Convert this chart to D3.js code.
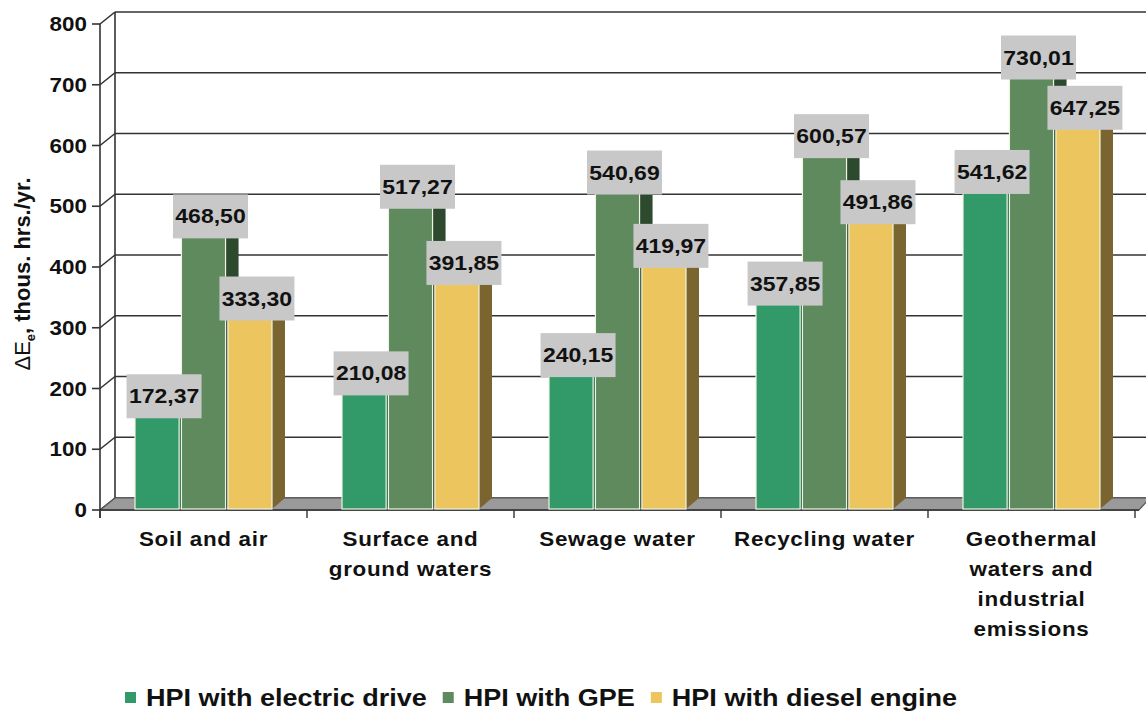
<!DOCTYPE html>
<html>
<head>
<meta charset="utf-8">
<script src="https://cdn.jsdelivr.net/npm/d3@7"></script>
<style>
  html, body { margin: 0; padding: 0; background: #fff; }
  svg { display: block; font-family: "Liberation Sans", Arial, sans-serif; }
</style>
</head>
<body>
<svg id="chart" width="1146" height="713"></svg>
<script>
// ---------------- data ----------------
const categories = ["Soil and air", "Surface and ground waters", "Sewage water", "Recycling water", "Geothermal waters and industrial emissions"];
const categoryLines = [["Soil and air"], ["Surface and", "ground waters"], ["Sewage water"], ["Recycling water"], ["Geothermal", "waters and", "industrial", "emissions"]];
const seriesNames = ["HPI with electric drive", "HPI with GPE", "HPI with diesel engine"];
const electricDrive = [172.37, 210.08, 240.15, 357.85, 541.62];
const gpeDrive = [468.50, 517.27, 540.69, 600.57, 730.01];
const dieselEngine = [333.30, 391.85, 419.97, 491.86, 647.25];
const yTicks = [0, 100, 200, 300, 400, 500, 600, 700, 800];
const yTitleMain = "ΔE";
const yTitleSub = "e";
const yTitleRest = ", thous. hrs./yr.";

// ---------------- styles ----------------
const frontColors = ["#329a69", "#5f8a5e", "#ecc55f"];
const sideColors = ["#1f6a45", "#2d4a2e", "#7a6430"];
const topColors = ["#5cbb8c", "#86ad85", "#f5dc95"];
const SX = 1.15; // horizontal text stretch

const svg = d3.select("#chart");
const values = [electricDrive, gpeDrive, dieselEngine];

// geometry
const frontLeft = 100, frontRight = 1135;
const wallDX = 15, wallDY = -12;
const barDX = 13, barDY = -11;
const y = d3.scaleLinear().domain([0, 800]).range([510, 24]);
const x0 = d3.scaleBand().domain(categories).range([frontLeft, frontRight]);
const x1 = d3.scaleBand().domain(seriesNames).range([35, 172]).paddingInner(0.05);

function stext(g, x, yy, str, size, anchor, sx) {
  const t = g.append("g").attr("transform", `translate(${x},${yy}) scale(${sx || SX},1)`)
    .append("text").attr("x", 0).attr("y", 0)
    .attr("font-size", size).attr("font-weight", "bold").attr("fill", "#111")
    .attr("text-anchor", anchor || "start").text(str);
  return t;
}

// ---------------- back wall gridlines ----------------
const grid = svg.append("g");
grid.selectAll("line.grid").data(yTicks).join("line")
  .attr("x1", frontLeft + wallDX).attr("x2", 1146)
  .attr("y1", d => y(d) + wallDY).attr("y2", d => y(d) + wallDY)
  .attr("stroke", "#333").attr("stroke-width", 1.6);

// left side wall
grid.append("line").attr("x1", frontLeft + wallDX).attr("x2", frontLeft + wallDX)
  .attr("y1", y(800) + wallDY).attr("y2", y(0) + wallDY).attr("stroke", "#333").attr("stroke-width", 1.6);
grid.selectAll("line.diag").data(yTicks).join("line")
  .attr("x1", frontLeft).attr("x2", frontLeft + wallDX)
  .attr("y1", d => y(d)).attr("y2", d => y(d) + wallDY)
  .attr("stroke", "#333").attr("stroke-width", 1.6);

// floor
const floorPts = [[frontLeft, y(0)], [frontLeft + wallDX, y(0) + wallDY], [1150, y(0) + wallDY], [frontRight + 4, y(0)]];
svg.append("polygon").attr("points", floorPts.map(p => p.join(",")).join(" "))
  .attr("fill", "#9a9a9a").attr("stroke", "#555").attr("stroke-width", 1.2);
svg.append("line").attr("x1", frontLeft).attr("x2", frontRight + 4)
  .attr("y1", y(0)).attr("y2", y(0)).attr("stroke", "#444").attr("stroke-width", 2);

// front axis
svg.append("line").attr("x1", frontLeft).attr("x2", frontLeft)
  .attr("y1", y(800)).attr("y2", y(0) + 8).attr("stroke", "#333").attr("stroke-width", 1.6);
svg.selectAll("line.ytick").data(yTicks).join("line")
  .attr("x1", frontLeft - 8).attr("x2", frontLeft)
  .attr("y1", d => y(d)).attr("y2", d => y(d)).attr("stroke", "#333").attr("stroke-width", 1.6);
const yLab = svg.append("g");
yTicks.forEach(t => stext(yLab, 87, y(t) + 7, String(t), 19.5, "end"));

// x ticks at category boundaries
const bounds = categories.map(c => x0(c)).concat([frontRight]);
svg.selectAll("line.xtick").data(bounds).join("line")
  .attr("x1", d => d).attr("x2", d => d)
  .attr("y1", y(0)).attr("y2", y(0) + 8).attr("stroke", "#333").attr("stroke-width", 1.4);

// ---------------- bars ----------------
const bars = svg.append("g");
categories.forEach((c, ci) => {
  seriesNames.forEach((s, si) => {
    const v = values[si][ci];
    const bx = x0(c) + x1(s);
    const bw = x1.bandwidth();
    const top = y(v), bot = y(0) - 1;
    bars.append("polygon")
      .attr("points", [[bx + bw, bot], [bx + bw + barDX, bot + barDY], [bx + bw + barDX, top + barDY], [bx + bw, top]].map(p => p.join(",")).join(" "))
      .attr("fill", sideColors[si]);
    bars.append("polygon")
      .attr("points", [[bx, top], [bx + barDX, top + barDY], [bx + bw + barDX, top + barDY], [bx + bw, top]].map(p => p.join(",")).join(" "))
      .attr("fill", topColors[si]);
    bars.append("rect").attr("x", bx).attr("y", top).attr("width", bw).attr("height", bot - top)
      .attr("fill", frontColors[si]).attr("stroke", "#eef3e2").attr("stroke-width", 1.2);
  });
});

// ---------------- value labels ----------------
const fmt = v => d3.format(".2f")(v).replace(".", ",");
const labG = svg.append("g");
categories.forEach((c, ci) => {
  seriesNames.forEach((s, si) => {
    const v = values[si][ci];
    const cx = x0(c) + x1(s) + x1.bandwidth() / 2 + 7;
    const cy = y(v) - 9;
    labG.append("rect").attr("x", cx - 37.5).attr("y", cy - 22).attr("width", 75).attr("height", 44)
      .attr("fill", "#c8c8c8");
    stext(labG, cx, cy + 7, fmt(v), 20, "middle");
  });
});

// ---------------- category labels ----------------
const xLab = svg.append("g");
categories.forEach((c, ci) => {
  const cx = x0(c) + x0.bandwidth() / 2;
  categoryLines[ci].forEach((ln, li) => {
    stext(xLab, cx, 546 + li * 30, ln, 19.5, "middle").attr("letter-spacing", 0.6);
  });
});

// ---------------- y title ----------------
const yt = svg.append("text")
  .attr("transform", "translate(30,274) rotate(-90)")
  .attr("text-anchor", "middle").attr("font-size", 22).attr("font-weight", "bold").attr("fill", "#111");
yt.append("tspan").attr("font-weight", "normal").text(yTitleMain);
yt.append("tspan").attr("font-size", 13).attr("dy", 5).text(yTitleSub);
yt.append("tspan").attr("dy", -5).text(yTitleRest);

// ---------------- legend ----------------
const leg = svg.append("g");
let lx = 125;
seriesNames.forEach((s, si) => {
  leg.append("rect").attr("x", lx).attr("y", 692).attr("width", 11).attr("height", 11).attr("fill", frontColors[si]);
  const t = stext(leg, lx + 21, 706, s, 23.5, "start", 1.15);
  const w = t.node().getComputedTextLength() * 1.15;
  lx += 21 + w + 16;
});
</script>
</body>
</html>
